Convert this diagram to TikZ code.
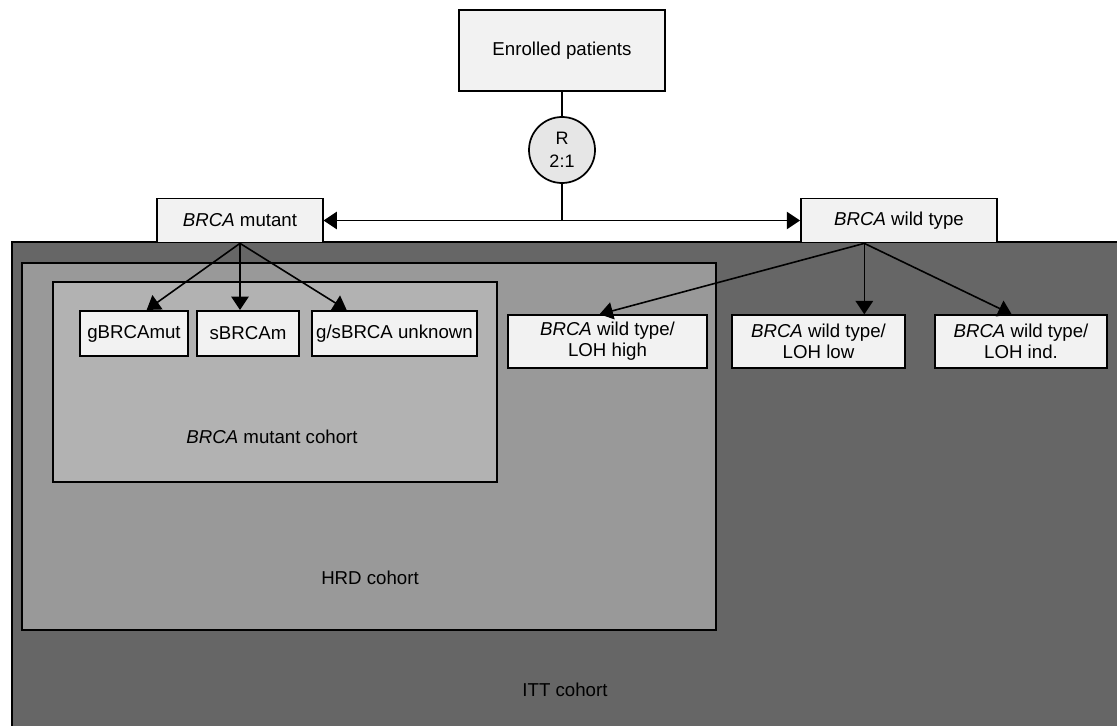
\documentclass[tikz,border=0pt]{standalone}
\usepackage{fontspec}
\setmainfont{Liberation Sans}
\usetikzlibrary{arrows.meta}
\definecolor{boxfill}{HTML}{F2F2F2}
\definecolor{rfill}{HTML}{E6E6E6}
\definecolor{ittfill}{HTML}{666666}
\definecolor{hrdfill}{HTML}{999999}
\definecolor{mutfill}{HTML}{B2B2B2}
\tikzset{
  every node/.style={font=\fontsize{14pt}{16pt}\selectfont},
  armbox/.style={draw=black, line width=1.3pt, fill=boxfill, rectangle, inner sep=0pt, align=center},
  cohort/.style={draw=black, line width=1.3pt},
  arr/.style={-{Triangle[length=10pt,width=13pt]}, line width=1.2pt},
}
\begin{document}
\begin{tikzpicture}[x=0.75pt,y=-0.75pt]
\useasboundingbox (0,0) rectangle (1117,725);
\begin{scope}
\clip (0,0) rectangle (1117,725);
% cohorts
\draw[cohort, fill=ittfill] (12,242) rectangle (1125,735);
\draw[cohort, fill=hrdfill] (22,263) rectangle (716,630);
\draw[cohort, fill=mutfill] (53,282) rectangle (497,482);
\end{scope}
\node (itt) at (565,690) {ITT cohort};
\node (hrd) at (370,578) {HRD cohort};
\node (mutcoh) at (272,437) {\textit{BRCA} mutant cohort};
% boxes
\node[armbox, minimum width=154pt, minimum height=61pt] (enr) at (562,50.5) {Enrolled patients};
\node[circle, draw=black, line width=1.3pt, fill=rfill, minimum size=49.5pt, inner sep=0pt, align=center, font=\fontsize{13.5pt}{17pt}\selectfont] (R) at (562,150) {R\\2:1};
\coordinate (split) at (562,221);
\node[armbox, minimum width=124pt, minimum height=33pt] (mut) at (240,220.5) {\textit{BRCA} mutant};
\node[armbox, minimum width=147pt, minimum height=33pt] (wt) at (899,220.5) {\textit{BRCA} wild type};
\node[armbox, minimum width=81pt, minimum height=34pt] (gmut) at (134,333.5) {gBRCAmut};
\node[armbox, minimum width=76.5pt, minimum height=34pt] (smut) at (248,333.5) {sBRCAm};
\node[armbox, minimum width=124pt, minimum height=34pt] (unk) at (394.5,333.5) {g/sBRCA unknown};
\node[armbox, minimum width=149pt, minimum height=39.5pt] (high) at (607.5,341.5) {\textit{BRCA} wild type/\\LOH high};
\node[armbox, minimum width=130pt, minimum height=39.5pt] (low) at (818.5,341.5) {\textit{BRCA} wild type/\\LOH low};
\node[armbox, minimum width=129pt, minimum height=39.5pt] (ind) at (1021,341.5) {\textit{BRCA} wild type/\\LOH ind.};
% connectors
\draw[line width=1.2pt] (enr.south) -- (R.north);
\draw[line width=1.2pt] (R.south) -- (split);
\draw[arr, {Triangle[length=10pt,width=13pt]}-{Triangle[length=10pt,width=13pt]}] (mut.east) -- (wt.west);
\draw[arr] (mut.south) -- ([xshift=-70pt]mut.south |- gmut.north);
\draw[arr] (mut.south) -- (mut.south |- smut.north);
\draw[arr] (mut.south) -- ([xshift=80pt]mut.south |- unk.north);
\coordinate (wtout) at ([xshift=-26pt]wt.south);
\draw[arr] (wtout) -- ([xshift=-6pt]high.north);
\draw[arr] (wtout) -- (wtout |- low.north);
\draw[arr] (wtout) -- ([xshift=-7pt]ind.north);
\end{tikzpicture}
\end{document}
